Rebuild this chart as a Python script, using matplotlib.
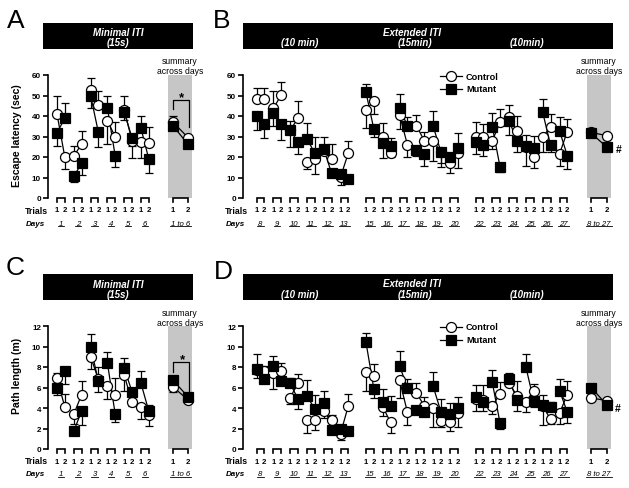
import matplotlib
matplotlib.use('Agg')

import matplotlib.pyplot as plt
import matplotlib.transforms as mtransforms
from matplotlib.patches import Rectangle
from matplotlib.lines import Line2D
import numpy as np

plt.rcParams['font.family'] = ['Liberation Sans', 'DejaVu Sans']

W, H = 629, 489

# ---------------- data ----------------
days_min = [1, 2, 3, 4, 5, 6]
days_ext = [8, 9, 10, 11, 12, 13, 15, 16, 17, 18, 19, 20, 22, 23, 24, 25, 26, 27]
trials = ['1', '2']
summary_min = '1 to 6'
summary_ext = '8 to 27'

# error values are signed: + drawn upward, - drawn downward
# A: escape latency, minimal ITI  (day1 t1, day1 t2, day2 t1, ...)
lat_min_ctrl = [41.0, 20.0, 20.4, 26.4, 52.7, 45.4, 37.5, 30.0, 43.0, 28.0, 27.3, 27.0]
lat_min_ctrl_err = [9, -6, 5, 6.5, 6, 7, -11, 7, 7, -8.5, -8, 7.5]
lat_min_mut = [31.8, 38.9, 10.5, 17.0, 50.0, 32.0, 44.0, 20.5, 42.0, 29.3, 34.0, 19.0]
lat_min_mut_err = [-6.5, 7.5, -2.5, -6, -6, -7, 6, -5.5, -4, -4, 6, -7]
lat_min_sum_ctrl = [37.0, 29.5]
lat_min_sum_ctrl_err = [3, -2]
lat_min_sum_mut = [35.2, 26.2]
lat_min_sum_mut_err = [-2, -2]

# B: escape latency, extended ITI
lat_ext_ctrl = [48.1, 48.1, 43.7, 50.1, 33.1, 38.8, 17.5, 19.1, 23.0, 19.1, 10.2, 21.9,
                43.1, 47.2, 29.6, 21.8, 40.5, 26.0, 35.3, 28.0, 28.0, 22.3, 16.9, 21.8,
                30.0, 30.0, 28.0, 36.9, 39.3, 32.8, 24.7, 19.8, 30.0, 34.5, 21.5, 32.4]
lat_ext_ctrl_err = [5.7, 5.7, 8.5, 6.5, 4.4, 8.5, -3.5, -7.5, 3, 7, -3.7, 6,
                    -9, -6, 6.8, -2, -7, -6, 5, 4, -10, -5, -4.5, -7,
                    7, 6, -4, 6.5, 6, 7, -9, -5, -7.7, 6.5, -5.7, 6]
lat_ext_mut = [40.0, 36.2, 41.6, 36.2, 33.1, 27.4, 28.9, 22.0, 24.0, 12.2, 11.8, 9.4,
               51.5, 33.7, 26.7, 25.2, 43.7, 35.3, 23.4, 21.5, 35.0, 22.3, 19.8, 24.2,
               27.2, 26.0, 34.8, 15.0, 37.7, 28.0, 25.5, 24.4, 41.8, 25.9, 32.8, 20.7]
lat_ext_mut_err = [-6.6, -7, -6.6, -7.7, -8, -6, 7.5, 7.6, 5.6, -2, -2, -1.6,
                   4, -4, -7.2, 4, 7, 4, -3, -5.7, 7.3, -7, -2.5, 7.7,
                   -5.7, -5.3, 6.5, -2.5, -7, -5.7, 5, 6, 6.5, -3.6, 6.5, -6.6]
lat_ext_sum_ctrl = [32.0, 30.4]
lat_ext_sum_ctrl_err = [1.5, 1]
lat_ext_sum_mut = [31.7, 24.7]
lat_ext_sum_mut_err = [-1.5, -1.5]

# C: path length, minimal ITI
path_min_ctrl = [6.9, 4.1, 3.4, 5.3, 9.0, 6.8, 6.1, 5.3, 7.2, 4.6, 4.1, 3.3]
path_min_ctrl_err = [0.5, 1.3, -1.0, 1.3, -1.2, 1.2, -1.2, 1.6, -1.5, -0.4, -1.2, -1.1]
path_min_mut = [5.95, 7.6, 1.75, 3.7, 10.0, 6.6, 8.4, 3.4, 7.9, 5.6, 6.4, 3.7]
path_min_mut_err = [-0.65, -1.3, -0.3, -1.4, 1.2, -1.0, 1.1, -0.8, 1.0, -0.4, 1.2, 0.6]
path_min_sum_ctrl = [6.05, 4.8]
path_min_sum_ctrl_err = [-0.5, -0.3]
path_min_sum_mut = [6.7, 5.1]
path_min_sum_mut_err = [0.3, -0.3]

# D: path length, extended ITI
path_ext_ctrl = [7.7, 7.6, 7.4, 7.6, 5.0, 6.4, 2.8, 2.8, 3.7, 2.8, 1.5, 4.2,
                 7.5, 7.1, 4.1, 2.6, 6.7, 3.6, 5.5, 4.2, 4.0, 2.7, 2.6, 3.5,
                 4.9, 4.8, 4.2, 5.4, 6.4, 5.2, 4.6, 5.7, 4.2, 2.9, 3.5, 5.3]
path_ext_ctrl_err = [-0.8, 0.5, -1.5, 0.8, -0.6, 0.9, -1.2, -0.9, -0.7, 0.5, -0.6, 1.2,
                     -1.8, 1.2, -0.9, -1.0, -1.7, -1.3, 0.9, -0.6, -1.9, -0.6, -0.8, -1.4,
                     -1.2, 1.4, -0.8, 1.1, 0.4, 1.4, -1.0, 0.6, -1.9, -0.5, -1.1, 1.3]
path_ext_mut = [7.8, 6.8, 8.1, 6.6, 6.4, 4.9, 5.2, 3.9, 4.5, 1.9, 2.0, 1.8,
                10.4, 5.9, 4.6, 4.2, 8.1, 6.0, 3.8, 3.6, 6.1, 3.6, 3.4, 4.0,
                5.1, 4.6, 6.5, 2.5, 6.8, 4.8, 8.0, 4.7, 4.3, 4.1, 5.7, 3.6]
path_ext_mut_err = [1.5, -0.4, 1.0, -0.3, 0.5, -1.0, 1.5, 1.4, 1.2, -0.3, 0.3, -0.3,
                    0.9, -0.9, 1.3, 1.0, 1.5, 0.8, -0.4, 1.5, 1.4, 1.3, 1.1, 1.1,
                    1.1, -0.9, 1.2, -0.5, 0.6, -1.1, 1.3, -0.6, 1.0, 0.5, 1.1, -1.1]
path_ext_sum_ctrl = [5.0, 4.7]
path_ext_sum_ctrl_err = [-0.3, 0.2]
path_ext_sum_mut = [6.0, 4.3]
path_ext_sum_mut_err = [0.3, -0.3]


# ---------------- layout helpers ----------------
fig = plt.figure(figsize=(W / 100, H / 100), dpi=100)
# figure pixel coordinates, origin top-left
T = mtransforms.Affine2D().scale(1 / W, -1 / H).translate(0, 1) + fig.transFigure

underlined = []


def ftext(x, y, s, **kw):
    kw.setdefault('ha', 'center')
    kw.setdefault('va', 'center')
    return fig.text(x, y, s, transform=T, **kw)


def trial_positions(n_days, x0, group_step, day_step=16.8, trial_step=7.8):
    xs = []
    for i in range(n_days):
        base = x0 + (i // 6) * group_step + (i % 6) * day_step
        xs += [base, base + trial_step]
    return np.array(xs)


def one_sided(err):
    e = np.asarray(err, float)
    return np.vstack([np.clip(-e, 0, None), np.clip(e, 0, None)])


def draw_series(ax, xs, vals, err, marker, face, z):
    ax.errorbar(xs, vals, yerr=one_sided(err), fmt='none', ecolor='k',
                elinewidth=0.9, capsize=3, capthick=0.9, zorder=2)
    for i in range(0, len(xs), 2):
        ax.plot(xs[i:i + 2], vals[i:i + 2], color='k', lw=0.9, zorder=2.5)
    ax.plot(xs, vals, ls='none', marker=marker, mfc=face, mec='k',
            ms=7.2 if marker == 'o' else 6.6, mew=0.9, zorder=z)


def panel(box, xs, sx, shade, ymax, ystep, ctrl, ctrl_err, mut, mut_err,
          sctrl, sctrl_err, smut, smut_err):
    l, t, r, b = box
    ax = fig.add_axes([l / W, 1 - b / H, (r - l) / W, (b - t) / H])
    ax.set_xlim(l, r)
    ax.set_ylim(0, ymax)
    ax.patch.set_visible(False)
    ax.axvspan(shade[0], shade[1], color='#c6c6c6', lw=0, zorder=0)

    draw_series(ax, xs, ctrl, ctrl_err, 'o', 'white', 3)
    draw_series(ax, xs, mut, mut_err, 's', 'black', 4)
    draw_series(ax, sx, sctrl, sctrl_err, 'o', 'white', 3)
    draw_series(ax, sx, smut, smut_err, 's', 'black', 4)

    for s in ['top', 'right', 'bottom']:
        ax.spines[s].set_visible(False)
    ax.spines['left'].set_linewidth(1.2)
    ax.set_xticks([])
    ax.set_yticks(np.arange(0, ymax + 0.01, ystep))
    ax.tick_params(axis='y', length=3.6, width=1.2, labelsize=5.8, pad=1.5)
    for lab in ax.get_yticklabels():
        lab.set_fontweight('bold')

    # segmented axis: one small bracket per day
    tr = mtransforms.blended_transform_factory(ax.transData, ax.transAxes)
    legs = 4.0 / (b - t)
    allx = list(xs) + list(sx)
    for i in range(0, len(allx), 2):
        ax.plot([allx[i], allx[i], allx[i + 1], allx[i + 1]], [-legs, 0, 0, -legs],
                transform=tr, color='k', lw=1.2, clip_on=False, solid_joinstyle='miter')
    return ax


def axis_labels(xs, sx, days, summary, y_trial, y_day, x_right):
    ftext(x_right, y_trial, 'Trials', ha='right', weight='bold', size=6.3)
    ftext(x_right - 3, y_day, 'Days', ha='right', weight='bold', style='italic', size=5.8)
    for i, x in enumerate(list(xs) + list(sx)):
        ftext(x, y_trial, trials[i % 2], size=5.6, weight='bold')
    for i, d in enumerate(days):
        underlined.append(ftext((xs[2 * i] + xs[2 * i + 1]) / 2, y_day, str(d),
                                style='italic', size=5.6))
    underlined.append(ftext((sx[0] + sx[1]) / 2, y_day, summary, style='italic', size=5.6))


def header(x0, x1, top, texts):
    fig.add_artist(Rectangle((x0, top), x1 - x0, 26, transform=T, color='black', lw=0))
    for x, dy, s in texts:
        ftext(x, top + dy, s, color='white', weight='bold', style='italic', size=7)


def legend(x, y):
    for dy, marker, face, name in [(0, 'o', 'white', 'Control'), (12.5, 's', 'black', 'Mutant')]:
        fig.add_artist(Line2D([x, x + 22], [y + dy, y + dy], transform=T, color='k', lw=0.9))
        fig.add_artist(Line2D([x + 11], [y + dy], transform=T, ls='none', marker=marker,
                              mfc=face, mec='k', ms=7.2 if marker == 'o' else 6.6, mew=0.9))
        ftext(x + 26, y + dy, name, ha='left', weight='bold', size=6.6)


xs_min = trial_positions(len(days_min), 57, 0)
xs_ext = trial_positions(len(days_ext), 256.5, 109.5)
sx_min = np.array([173, 188])
sx_ext = np.array([591, 607])

# ---------------- panels ----------------
# A
panel((48, 76, 195, 199), xs_min, sx_min, (168, 192), 60, 10,
      lat_min_ctrl, lat_min_ctrl_err, lat_min_mut, lat_min_mut_err,
      lat_min_sum_ctrl, lat_min_sum_ctrl_err, lat_min_sum_mut, lat_min_sum_mut_err)
# B
panel((243, 76, 615, 199), xs_ext, sx_ext, (587, 611), 60, 10,
      lat_ext_ctrl, lat_ext_ctrl_err, lat_ext_mut, lat_ext_mut_err,
      lat_ext_sum_ctrl, lat_ext_sum_ctrl_err, lat_ext_sum_mut, lat_ext_sum_mut_err)
# C
panel((48, 327, 195, 450), xs_min, sx_min, (168, 192), 12, 2,
      path_min_ctrl, path_min_ctrl_err, path_min_mut, path_min_mut_err,
      path_min_sum_ctrl, path_min_sum_ctrl_err, path_min_sum_mut, path_min_sum_mut_err)
# D
panel((243, 327, 615, 450), xs_ext, sx_ext, (587, 611), 12, 2,
      path_ext_ctrl, path_ext_ctrl_err, path_ext_mut, path_ext_mut_err,
      path_ext_sum_ctrl, path_ext_sum_ctrl_err, path_ext_sum_mut, path_ext_sum_mut_err)

for off in [0, 251]:
    axis_labels(xs_min, sx_min, days_min, summary_min, 211 + off, 224 + off, 48)
    axis_labels(xs_ext, sx_ext, days_ext, summary_ext, 211 + off, 224 + off, 248)
    header(43, 193, 24 + off, [(118, 9.5, 'Minimal ITI'), (118, 19.5, '(15s)')])
    header(243, 613, 24 + off, [(412, 9, 'Extended ITI'), (300, 19.5, '(10 min)'),
                                (415, 19.5, '(15min)'), (527, 19.5, '(10min)')])
    for cx in [180, 599]:
        ftext(cx, 62 + off, 'summary', size=6.2)
        ftext(cx, 72 + off, 'across days', size=6.2)
    legend(440, 77 + off)

# panel letters
for x, y, s in [(16, 21, 'A'), (222, 21, 'B'), (15, 268, 'C'), (223, 272, 'D')]:
    ftext(x, y, s, size=19)

# y labels
ftext(17, 136, 'Escape latency (sec)', rotation=90, weight='bold', size=7.6)
ftext(17, 376, 'Path length (m)', rotation=90, weight='bold', size=7.6)

# significance marks
fig.add_artist(Line2D([173, 173, 189, 189], [110, 101, 101, 128], transform=T, color='k', lw=0.9))
ftext(181, 98, '*', weight='bold', size=9.5)
fig.add_artist(Line2D([173, 173, 189, 189], [373, 363, 363, 394], transform=T, color='k', lw=0.9))
ftext(182, 360, '*', weight='bold', size=9.5)
ftext(619, 150, '#', weight='bold', size=7.5)
ftext(618, 409, '#', weight='bold', size=7.5)

# underline day numbers
fig.canvas.draw()
for txt in underlined:
    bb = txt.get_window_extent()
    fig.add_artist(Line2D([bb.x0 - 1, bb.x1 + 1], [bb.y0 + 0.5, bb.y0 + 0.5],
                          transform=None, color='k', lw=0.6))

fig.savefig('out.png', dpi=100)
